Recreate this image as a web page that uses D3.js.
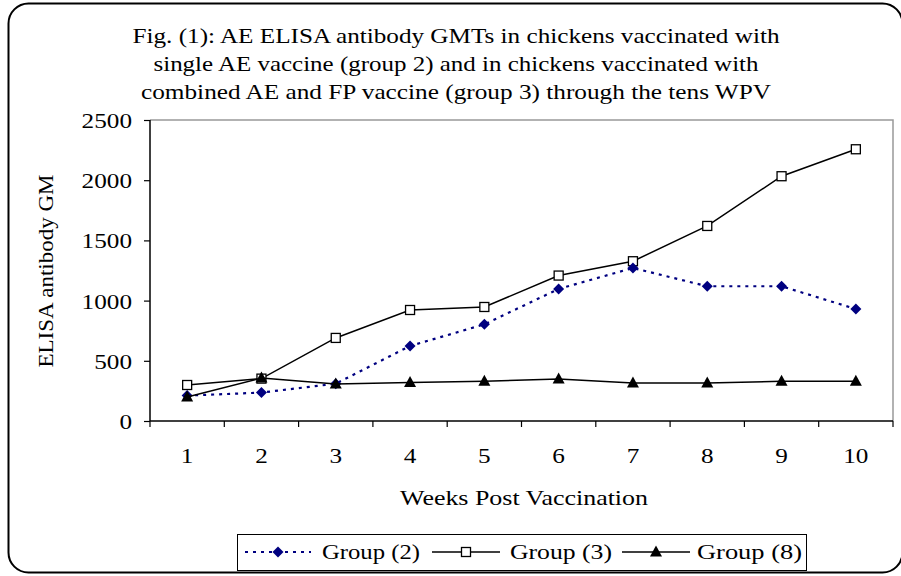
<!DOCTYPE html>
<html><head><meta charset="utf-8">
<script src="https://cdn.jsdelivr.net/npm/d3@7"></script>
<style>body{margin:0;background:#fff}svg{display:block}text{font-family:"Liberation Serif","Times New Roman",serif;fill:#000}</style>
</head><body><svg id="c" width="901" height="576"></svg>
<script>
const weeks = ["1","2","3","4","5","6","7","8","9","10"];
const group2 = [211, 236, 310, 623, 803, 1097, 1271, 1119, 1119, 930];
const group3 = [299, 352, 690, 922, 947, 1208, 1327, 1620, 2033, 2257];
const group8 = [200, 357, 307, 319, 330, 349, 316, 316, 330, 330];
const yTicks = [0, 500, 1000, 1500, 2000, 2500];
const titleLines = [
  "Fig. (1): AE ELISA antibody GMTs in chickens vaccinated with",
  "single AE vaccine (group 2) and in chickens vaccinated with",
  "combined AE and FP vaccine (group 3) through the tens WPV"
];
const seriesNames = ["Group (2)", "Group (3)", "Group (8)"];

const svg = d3.select("#c");
// outer frame
svg.append("rect").attr("x",8.5).attr("y",3.5).attr("width",894).attr("height",569)
  .attr("rx",20).attr("fill","#fff").attr("stroke","#000").attr("stroke-width",2);

const L=150, R=893, T=120, B=421;
const x = d3.scaleBand().domain(weeks).range([L,R]);
const y = d3.scaleLinear().domain([0,2500]).range([B,T]);

// plot border (grey top/right)
svg.append("path").attr("d",`M${L},${T}H${R}V${B}`).attr("fill","none").attr("stroke","#999").attr("stroke-width",1.5);

// title
const tw=[647,605,630];
titleLines.forEach((t,i)=>{
  svg.append("text").attr("x",456).attr("y",43+i*28).attr("text-anchor","middle")
    .attr("font-size",22).attr("textLength",tw[i]).attr("lengthAdjust","spacingAndGlyphs").text(t);
});

// y axis
const ya = svg.append("g").attr("transform",`translate(${L},0)`)
  .call(d3.axisLeft(y).tickValues(yTicks).tickSize(6).tickPadding(12).tickFormat(d3.format("d")));
ya.select(".domain").attr("stroke","#000").attr("stroke-width",1.5).attr("d",`M0,${T}V${B}`);
ya.selectAll(".tick line").attr("stroke","#000").attr("stroke-width",1.2);
ya.selectAll(".tick text").attr("font-family","Liberation Serif").attr("font-size",22).attr("fill","#000")
  .attr("dy","0.34em").each(function(){ d3.select(this).attr("textLength",this.textContent.length*12.6).attr("lengthAdjust","spacingAndGlyphs");});

// x axis with ticks between categories
const xa = svg.append("g").attr("transform",`translate(0,${B})`);
xa.append("line").attr("x1",L).attr("x2",R).attr("stroke","#000").attr("stroke-width",1.5);
const bounds = weeks.map(w=>x(w)).concat([R]);
xa.selectAll("line.tk").data(bounds).join("line").attr("class","tk")
  .attr("x1",d=>d).attr("x2",d=>d).attr("y1",0).attr("y2",6).attr("stroke","#000").attr("stroke-width",1.2);
xa.selectAll("text").data(weeks).join("text")
  .attr("x",d=>x(d)+x.bandwidth()/2).attr("y",42).attr("text-anchor","middle").attr("font-size",22)
  .attr("textLength",d=>d.length*12.6).attr("lengthAdjust","spacingAndGlyphs").text(d=>d);

// axis titles
svg.append("text").attr("transform","translate(53,271) rotate(-90)").attr("text-anchor","middle")
  .attr("font-size",22).attr("textLength",193).attr("lengthAdjust","spacingAndGlyphs").text("ELISA antibody GM");
svg.append("text").attr("x",524).attr("y",505).attr("text-anchor","middle")
  .attr("font-size",22).attr("textLength",248).attr("lengthAdjust","spacingAndGlyphs").text("Weeks Post Vaccination");

const cx = d => x(d)+x.bandwidth()/2;
const line = d3.line().x((d,i)=>cx(weeks[i])).y(d=>y(d));

const diamond = "M0,-5.5L5.5,0L0,5.5L-5.5,0Z";
const tri = "M0,-6.5L6,4.5L-6,4.5Z";

function drawSeries(data, stroke, dash, sw, markerFn){
  svg.append("path").datum(data).attr("d",line).attr("fill","none").attr("stroke",stroke)
    .attr("stroke-width",sw).attr("stroke-dasharray",dash);
  const g = svg.append("g");
  data.forEach((v,i)=>markerFn(g, cx(weeks[i]), y(v)));
}
const mkDiamond=(g,px,py)=>g.append("path").attr("d",diamond).attr("transform",`translate(${px},${py})`).attr("fill","#000080");
const mkSquare=(g,px,py)=>g.append("rect").attr("x",px-4.5).attr("y",py-4.5).attr("width",9).attr("height",9).attr("fill","#fff").attr("stroke","#000").attr("stroke-width",1.3);
const mkTri=(g,px,py)=>g.append("path").attr("d",tri).attr("transform",`translate(${px},${py})`).attr("fill","#000");

drawSeries(group3,"#000",null,1.5,mkSquare);
drawSeries(group2,"#000080","3,5",2.2,mkDiamond);
drawSeries(group8,"#000",null,1.5,mkTri);

// legend
const lg = svg.append("g");
lg.append("rect").attr("x",237.5).attr("y",534.5).attr("width",569).attr("height",36).attr("fill","#fff").attr("stroke","#000").attr("stroke-width",1);
const items = [
  {name:seriesNames[0], x0:245, x1:311, stroke:"#000080", dash:"3,5", sw:2.2, mk:mkDiamond, tx:322, tl:98},
  {name:seriesNames[1], x0:432, x1:500, stroke:"#000", dash:null, sw:1.5, mk:mkSquare, tx:510, tl:102},
  {name:seriesNames[2], x0:622, x1:690, stroke:"#000", dash:null, sw:1.5, mk:mkTri, tx:697, tl:105}
];
items.forEach(it=>{
  lg.append("line").attr("x1",it.x0).attr("x2",it.x1).attr("y1",552).attr("y2",552)
    .attr("stroke",it.stroke).attr("stroke-width",it.sw).attr("stroke-dasharray",it.dash);
  it.mk(lg,(it.x0+it.x1)/2,552);
  lg.append("text").attr("x",it.tx).attr("y",559).attr("font-size",22)
    .attr("textLength",it.tl).attr("lengthAdjust","spacingAndGlyphs").text(it.name);
});
</script></body></html>
